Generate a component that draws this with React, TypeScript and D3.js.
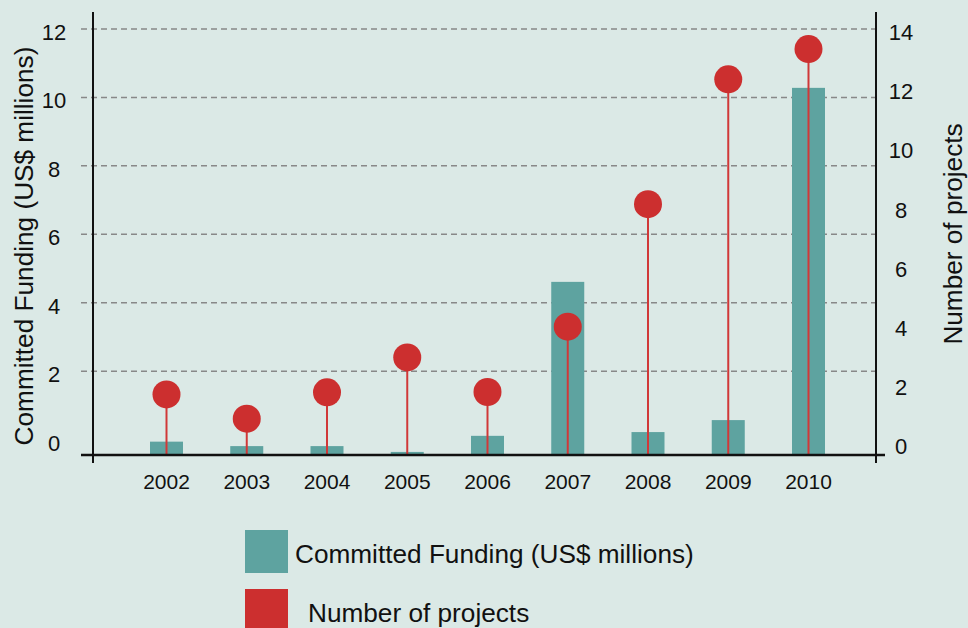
import React from 'react';
import * as d3 from 'd3';

const years = ['2002', '2003', '2004', '2005', '2006', '2007', '2008', '2009', '2010'];
// Committed funding (US$ millions), measured from the chart baseline
const funding = [0.39, 0.26, 0.26, 0.09, 0.56, 5.06, 0.67, 1.02, 10.73];
// Number of projects (right axis)
const projects = [1.65, 0.83, 1.72, 2.9, 1.73, 3.94, 8.08, 12.3, 13.32];
const leftTicks = [0, 2, 4, 6, 8, 10, 12];
const rightTicks = [0, 2, 4, 6, 8, 10, 12, 14];
const gridTicks = [2, 4, 6, 8, 10, 12];
const leftTitle = 'Committed Funding (US$ millions)';
const rightTitle = 'Number of projects';
const legendLabels = ['Committed Funding (US$ millions)', 'Number of projects'];

const W = 968;
const H = 628;
const BG = '#dbe9e6';
const TEAL = '#5ea3a0';
const RED = '#cc2f2f';
const FONT = '"Liberation Sans", Arial, sans-serif';

export default function App() {
  const baseY = 455;
  const axisLX = 93;
  const axisRX = 876;
  const x = d3.scalePoint<string>().domain(years).range([166.5, 808.5]);
  const yL = d3.scaleLinear().domain([0, 12]).range([439.6, 29]);
  const unit = (439.6 - 29) / 12;
  const yBar = d3.scaleLinear().domain([0, 12]).range([baseY, baseY - 12 * unit]);
  const yR = d3.scaleLinear().domain([0, 14]).range([443.2, 29]);
  const barW = 33;

  return (
    <svg
      width={W}
      height={H}
      style={{ position: 'absolute', left: 0, top: 0, display: 'block' }}
      fontFamily={FONT}
    >
      <rect x={0} y={0} width={W} height={H} fill={BG} />
      {/* grid */}
      {gridTicks.map((t) => (
        <line
          key={'g' + t}
          x1={81}
          x2={880}
          y1={yL(t)}
          y2={yL(t)}
          stroke="#888"
          strokeWidth={1.5}
          strokeDasharray="6 4"
        />
      ))}
      {/* bars */}
      {years.map((yr, i) => (
        <rect
          key={'b' + yr}
          x={(x(yr) as number) - barW / 2}
          y={yBar(funding[i])}
          width={barW}
          height={baseY - yBar(funding[i])}
          fill={TEAL}
        />
      ))}
      {/* lollipops */}
      {years.map((yr, i) => (
        <g key={'p' + yr}>
          <line
            x1={x(yr) as number}
            x2={x(yr) as number}
            y1={baseY}
            y2={yR(projects[i])}
            stroke="#d03838"
            strokeWidth={2}
          />
          <circle cx={x(yr) as number} cy={yR(projects[i])} r={14} fill={RED} />
        </g>
      ))}
      {/* axes */}
      <line x1={81} x2={885} y1={baseY} y2={baseY} stroke="#111" strokeWidth={2.5} />
      <line x1={axisLX} x2={axisLX} y1={12} y2={463} stroke="#111" strokeWidth={2} />
      <line x1={axisRX} x2={axisRX} y1={12} y2={463} stroke="#111" strokeWidth={2} />
      {/* left tick labels */}
      {leftTicks.map((t) => (
        <text key={'l' + t} x={54} y={yL(t) + 11} textAnchor="middle" fontSize={22} fill="#111">
          {t}
        </text>
      ))}
      {/* right tick labels */}
      {rightTicks.map((t) => (
        <text key={'r' + t} x={901} y={yR(t) + 11} textAnchor="middle" fontSize={22} fill="#111">
          {t}
        </text>
      ))}
      {/* x labels */}
      {years.map((yr) => (
        <text key={'x' + yr} x={x(yr) as number} y={489} textAnchor="middle" fontSize={21} fill="#111">
          {yr}
        </text>
      ))}
      {/* axis titles */}
      <text
        transform={`translate(33,246) rotate(-90)`}
        textAnchor="middle"
        fontSize={26.2}
        fill="#111"
      >
        {leftTitle}
      </text>
      <text
        transform={`translate(962,234) rotate(-90)`}
        textAnchor="middle"
        fontSize={26.2}
        fill="#111"
      >
        {rightTitle}
      </text>
      {/* legend */}
      <rect x={245} y={530} width={43} height={43} fill={TEAL} />
      <text x={295} y={563} fontSize={26.2} fill="#111">
        {legendLabels[0]}
      </text>
      <rect x={245} y={589} width={43} height={43} fill={RED} />
      <text x={308} y={622} fontSize={26.2} fill="#111">
        {legendLabels[1]}
      </text>
    </svg>
  );
}
